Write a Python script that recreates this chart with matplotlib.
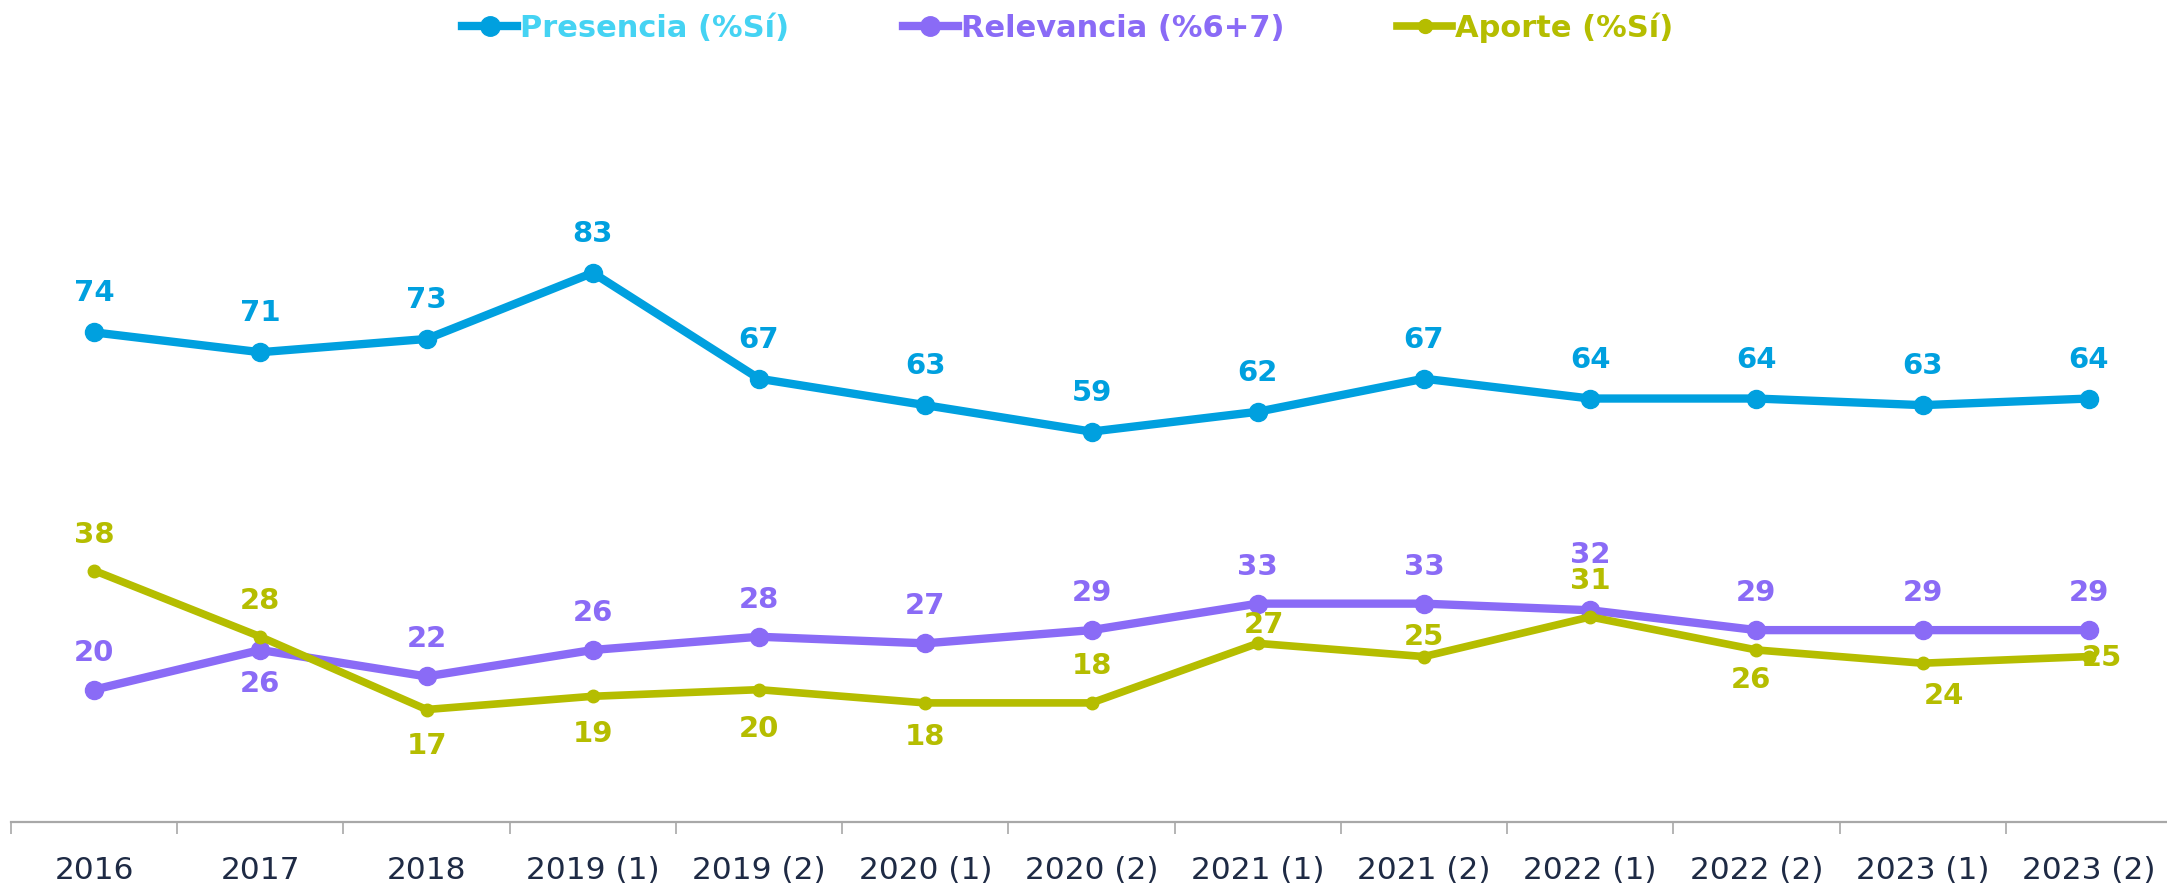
import matplotlib
matplotlib.use("Agg")
import matplotlib.pyplot as plt
from matplotlib.lines import Line2D
from matplotlib.ticker import FixedLocator

categories = ["2016", "2017", "2018", "2019 (1)", "2019 (2)", "2020 (1)", "2020 (2)",
              "2021 (1)", "2021 (2)", "2022 (1)", "2022 (2)", "2023 (1)", "2023 (2)"]
presencia = [74, 71, 73, 83, 67, 63, 59, 62, 67, 64, 64, 63, 64]
relevancia = [20, 26, 22, 26, 28, 27, 29, 33, 33, 32, 29, 29, 29]
aporte = [38, 28, 17, 19, 20, 18, 18, 27, 25, 31, 26, 24, 25]
series_names = ["Presencia (%Sí)", "Relevancia (%6+7)", "Aporte (%Sí)"]

# label offsets in pixels (dx, dy)
off_pres = [(0, 40)] * 13
off_rel = [(0, 38), (0, -33), (0, 38), (0, 38), (0, 38), (0, 38), (0, 38),
           (0, 38), (0, 38), (0, 56), (0, 38), (0, 38), (0, 38)]
off_apo = [(0, 37), (0, 37), (0, -35), (0, -37), (0, -38), (0, -33), (0, 38),
           (6, 19), (0, 21), (0, 37), (-5, -29), (21, -32), (13, 0)]

c_pres = "#00A0DF"
c_pres_txt = "#45D3F3"
c_rel = "#8A6BF6"
c_apo = "#B5BD00"

plt.rcParams['font.family'] = ['DejaVu Sans']

fig = plt.figure(figsize=(21.67, 8.87), dpi=100)
W, H = 2167, 887
ax = fig.add_axes([11 / W, (H - 823) / H, 2161 / W, (823 - 29) / H])
x = list(range(len(categories)))

ax.plot(x, presencia, color=c_pres, lw=6, marker='o', ms=13, zorder=3,
        solid_capstyle='round')
ax.plot(x, relevancia, color=c_rel, lw=6, marker='o', ms=13, zorder=3,
        solid_capstyle='round')
ax.plot(x, aporte, color=c_apo, lw=5.5, marker='o', ms=9, zorder=4,
        solid_capstyle='round')

for vals, offs, col in [(presencia, off_pres, c_pres), (relevancia, off_rel, c_rel),
                        (aporte, off_apo, c_apo)]:
    for i, v in enumerate(vals):
        ax.annotate(str(v), (i, v), xytext=offs[i], textcoords='offset pixels',
                    ha='center', va='center', fontsize=21, fontweight='bold',
                    color=col, zorder=5)

ax.set_xlim(-0.5, 12.5)
ax.set_ylim(0, 120)
ax.set_yticks([])
for s in ['left', 'right', 'top']:
    ax.spines[s].set_visible(False)
ax.spines['bottom'].set_color('#A8A8A8')
ax.spines['bottom'].set_linewidth(1.6)

ax.set_xticks(x)
ax.set_xticklabels(categories)
ax.tick_params(axis='x', which='major', length=0, pad=24, labelsize=22.5,
               labelcolor='#1E2A44')
ax.xaxis.set_minor_locator(FixedLocator([i - 0.5 for i in range(len(categories) + 1)]))
ax.tick_params(axis='x', which='minor', length=8.5, width=1.2, color='#A8A8A8',
               direction='out')

handles = [
    Line2D([], [], color=c_pres, lw=6, marker='o', ms=14),
    Line2D([], [], color=c_rel, lw=6, marker='o', ms=14),
    Line2D([], [], color=c_apo, lw=5.5, marker='o', ms=10),
]
leg = fig.legend(handles, series_names, loc='center', bbox_to_anchor=(1068 / W, 1 - 28 / H),
                 ncol=3, frameon=False, handlelength=1.8, handletextpad=0.1,
                 columnspacing=3.7, prop={'size': 22, 'weight': 'bold'})
for t, col in zip(leg.get_texts(), [c_pres_txt, c_rel, c_apo]):
    t.set_color(col)

fig.savefig("out.png", dpi=100)
